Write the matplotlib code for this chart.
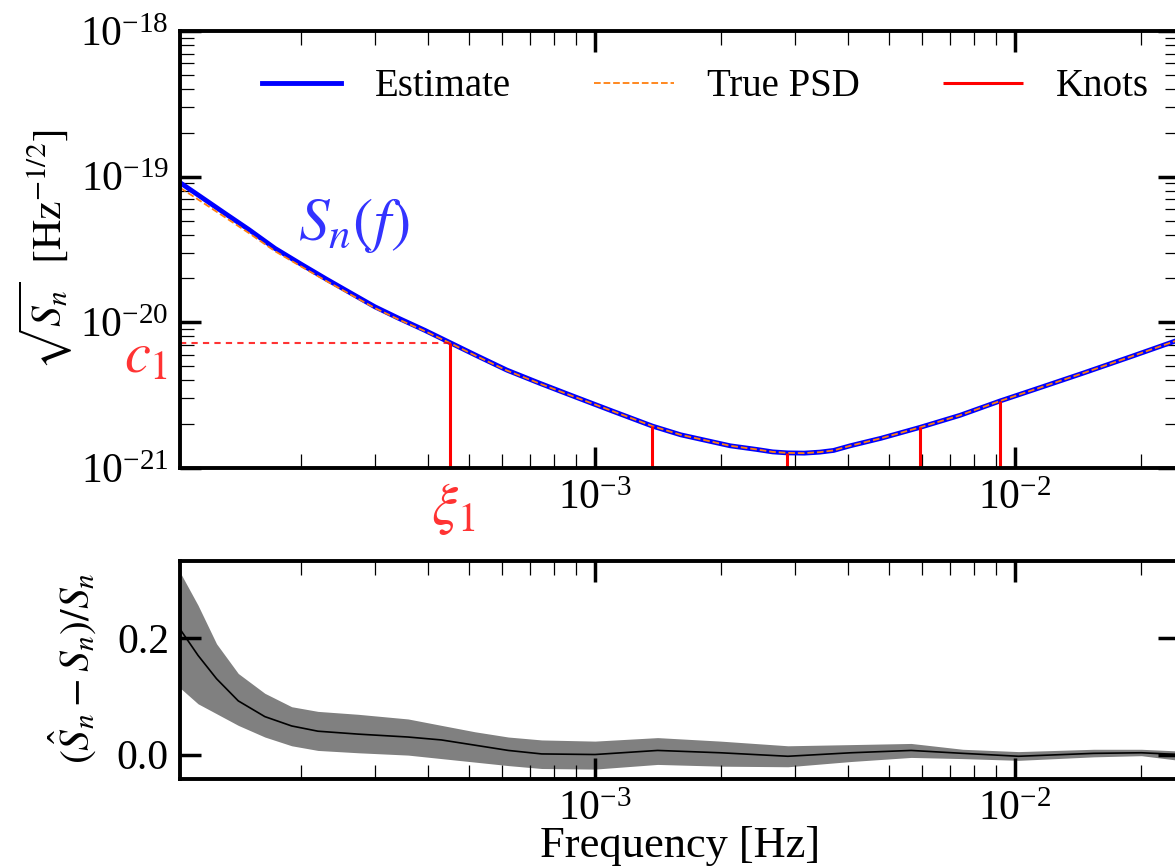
import numpy as np
import matplotlib
matplotlib.use('Agg')
from matplotlib import pyplot as plt

plt.rcParams['font.family'] = ['Liberation Serif', 'DejaVu Serif']
plt.rcParams['mathtext.fontset'] = 'stix'

# PSD (sqrt S_n)
freq = [1.028e-4, 1.15e-4, 1.315e-4, 1.5e-4, 1.73e-4, 2.0e-4, 2.28e-4, 2.6e-4, 2.99e-4,
        3.4e-4, 3.94e-4, 4.52e-4, 5.2e-4, 6.17e-4, 7.4e-4, 8.86e-4, 1.1e-3, 1.37e-3,
        1.6e-3, 1.85e-3, 2.1e-3, 2.43e-3, 2.65e-3, 2.87e-3, 3.15e-3, 3.43e-3, 3.7e-3,
        4.05e-3, 4.8e-3, 5.94e-3, 7.4e-3, 9.2e-3, 1.15e-2, 1.45e-2, 1.9e-2, 2.46e-2]
estimate = [9.1e-20, 7.3e-20, 5.6e-20, 4.33e-20, 3.22e-20, 2.5e-20, 2.0e-20, 1.61e-20, 1.28e-20,
            1.07e-20, 8.8e-21, 7.25e-21, 5.95e-21, 4.7e-21, 3.81e-21, 3.12e-21, 2.46e-21, 1.94e-21,
            1.69e-21, 1.54e-21, 1.42e-21, 1.34e-21, 1.29e-21, 1.27e-21, 1.265e-21, 1.285e-21, 1.32e-21,
            1.42e-21, 1.6e-21, 1.90e-21, 2.3e-21, 2.88e-21, 3.57e-21, 4.47e-21, 5.85e-21, 7.6e-21]
true_psd = [8.4e-20, 6.8e-20, 5.27e-20, 4.1e-20, 3.08e-20, 2.41e-20, 1.94e-20, 1.57e-20, 1.255e-20,
            1.05e-20, 8.7e-21, 7.2e-21, 5.9e-21, 4.67e-21, 3.79e-21, 3.11e-21, 2.46e-21, 1.94e-21,
            1.69e-21, 1.54e-21, 1.42e-21, 1.34e-21, 1.29e-21, 1.27e-21, 1.265e-21, 1.285e-21, 1.32e-21,
            1.42e-21, 1.6e-21, 1.90e-21, 2.3e-21, 2.88e-21, 3.57e-21, 4.47e-21, 5.85e-21, 7.6e-21]

knot_f = [4.52e-4, 1.37e-3, 2.87e-3, 5.94e-3, 9.2e-3]
knot_v = [7.25e-21, 1.94e-21, 1.27e-21, 1.90e-21, 2.88e-21]
c1 = 7.2e-21

# relative error (S_hat - S)/S
res_f = [1.033e-4, 1.135e-4, 1.256e-4, 1.415e-4, 1.637e-4, 1.896e-4, 2.19e-4, 2.73e-4,
         3.59e-4, 4.31e-4, 5.18e-4, 6.22e-4, 7.47e-4, 1.0e-3, 1.41e-3, 1.99e-3,
         2.88e-3, 4.07e-3, 5.66e-3, 7.51e-3, 1.02e-2, 1.54e-2, 2.0e-2, 2.46e-2]
res_mid = [0.213, 0.170, 0.130, 0.092, 0.065, 0.049, 0.040, 0.035, 0.030, 0.025, 0.016, 0.007,
           0.001, 0.0, 0.007, 0.003, -0.003, 0.003, 0.007, 0.002, -0.003, 0.002, 0.003, 0.0]
res_hi = [0.310, 0.256, 0.190, 0.139, 0.105, 0.082, 0.074, 0.069, 0.061, 0.050, 0.039, 0.030,
          0.025, 0.023, 0.029, 0.023, 0.015, 0.017, 0.019, 0.009, 0.005, 0.009, 0.009, 0.006]
res_lo = [0.113, 0.087, 0.070, 0.050, 0.030, 0.015, 0.007, 0.003, -0.001, -0.007, -0.013, -0.019,
          -0.024, -0.025, -0.017, -0.020, -0.021, -0.012, -0.005, -0.007, -0.010, -0.004, -0.002, -0.010]

W, H = 1175., 867.
fig = plt.figure(figsize=(W / 100, H / 100), dpi=100)
ax1 = fig.add_axes([180 / W, 1 - 468 / H, 999 / W, 437 / H])
ax2 = fig.add_axes([180 / W, 1 - 779 / H, 999 / W, 218 / H])

fs = 30
xlo, xhi = 1.028e-4, 2.458e-2

ax1.plot(freq, estimate, color='blue', lw=3.5, label='Estimate')
ax1.plot(freq, true_psd, color='#ff7f0e', lw=1.3, ls='--', label='True PSD')
ax1.vlines(knot_f, 1e-21, knot_v, color='red', lw=2.2, label='Knots')
ax1.plot([xlo, knot_f[0]], [c1, c1], color='red', alpha=0.8, lw=1.5, ls=(0, (3, 2.5)))
ax1.set_xscale('log')
ax1.set_yscale('log')
ax1.set_xlim(xlo, xhi)
ax1.set_ylim(1e-21, 1e-18)
ax1.set_ylabel(r'$\sqrt{S_n}\ \ [\mathrm{Hz}^{-1/2}]$', fontsize=fs)
ax1.yaxis.set_label_coords(-0.105, 0.5)
ax1.legend(loc='upper right', bbox_to_anchor=(0.970, 0.915), ncol=3, frameon=False,
           fontsize=28, handlelength=2.05, handletextpad=0.85, columnspacing=2.15,
           borderpad=0, borderaxespad=0)

ax1.text(1.96e-4, 3.67e-20, r'$S_n(f)$', color='blue', alpha=0.8, fontsize=44, va='baseline')
fig.text(124 / W, 1 - 372 / H, r'$c_1$', color='red', alpha=0.8, fontsize=42, va='baseline')
fig.text(431 / W, 1 - 524 / H, r'$\xi_1$', color='red', alpha=0.8, fontsize=42, va='baseline')

ax2.fill_between(res_f, res_lo, res_hi, color='grey', lw=0)
ax2.plot(res_f, res_mid, color='black', lw=1.2)
ax2.set_xscale('log')
ax2.set_xlim(xlo, xhi)
ax2.set_ylim(-0.042, 0.332)
ax2.set_yticks([0.0, 0.2])
ax2.set_yticklabels(['0.0', '0.2'])
ax2.yaxis.set_minor_locator(plt.NullLocator())
ax2.set_xlabel('Frequency [Hz]', fontsize=32)
ax2.xaxis.set_label_coords(0.5005, -0.215)
ax2.set_ylabel(r'$(\hat{S}_n - S_n)/S_n$', fontsize=fs)
ax2.yaxis.set_label_coords(-0.082, 0.51)

for ax in (ax1, ax2):
    for s in ax.spines.values():
        s.set_linewidth(2.8)
    ax.tick_params(which='both', direction='in', top=True, right=True, labelsize=fs)
    ax.tick_params(which='major', length=15, width=2.5, pad=8)
    ax.tick_params(which='minor', length=10, width=0.9)

fig.savefig('out.png', dpi=100)
